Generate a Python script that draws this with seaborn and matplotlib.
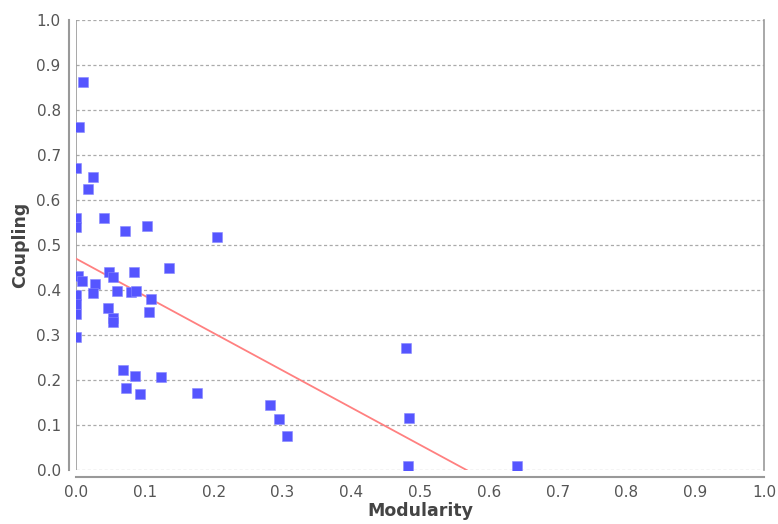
import numpy as np
import pandas as pd
import matplotlib
matplotlib.use("Agg")
import matplotlib.pyplot as plt
import seaborn as sns

# Per-project metrics
modularity = [0.0099, 0.005, 0.0, 0.025, 0.018, 0.0, 0.0, 0.0403, 0.0707, 0.103,
              0.2055, 0.135, 0.003, 0.008, 0.027, 0.025, 0.0, 0.0, 0.0, 0.0,
              0.0486, 0.054, 0.084, 0.06, 0.08, 0.0877, 0.109, 0.1065, 0.0467, 0.0533,
              0.0533, 0.0684, 0.0858, 0.0728, 0.0935, 0.1235, 0.1765, 0.2814, 0.2945, 0.306,
              0.48, 0.4838, 0.4819, 0.6409]
coupling = [0.863, 0.762, 0.672, 0.652, 0.625, 0.56, 0.541, 0.561, 0.532, 0.543,
            0.517, 0.448, 0.432, 0.421, 0.413, 0.393, 0.389, 0.368, 0.346, 0.296,
            0.439, 0.43, 0.439, 0.398, 0.395, 0.398, 0.38, 0.352, 0.359, 0.338,
            0.330, 0.2227, 0.209, 0.1826, 0.1686, 0.2065, 0.1708, 0.1448, 0.1129, 0.075,
            0.272, 0.115, 0.009, 0.009]
ticks = [round(0.1 * i, 1) for i in range(11)]

df = pd.DataFrame({"Modularity": modularity, "Coupling": coupling})

sns.set_style("white")
plt.rcParams["font.family"] = ["DejaVu Sans"]

text_col = "#444444"
tick_col = "#555555"
axis_col = "#999999"

fig = plt.figure(figsize=(7.78, 5.24), dpi=100)
ax = fig.add_axes([76 / 778, 1 - 470 / 524, (764 - 76) / 778, (470 - 20) / 524])

# horizontal dashed grid
for t in ticks:
    ax.axhline(t, color="#aaaaaa", lw=0.9, ls=(0, (2.5, 2)), zorder=0)
ax.axvline(0, color=axis_col, lw=1.2, zorder=0.5)

sns.regplot(data=df, x="Modularity", y="Coupling", scatter=False, ci=None,
            truncate=True, line_kws={"color": "#ff8080", "lw": 1.3, "zorder": 2}, ax=ax)
sns.scatterplot(data=df, x="Modularity", y="Coupling", marker="s", s=50,
                color="#5555ff", edgecolor="#8888ff", linewidth=0.4, zorder=3, ax=ax)

ax.set_xlim(0, 1)
ax.set_ylim(0, 1)
ax.set_xticks(ticks)
ax.set_yticks(ticks)
ax.set_xticklabels([f"{t:.1f}" for t in ticks])
ax.set_yticklabels([f"{t:.1f}" for t in ticks])

ax.spines["top"].set_visible(False)
ax.spines["right"].set_color(axis_col)
ax.spines["right"].set_linewidth(1.2)
for side in ("left", "bottom"):
    ax.spines[side].set_position(("outward", 5))
    ax.spines[side].set_color(axis_col)
    ax.spines[side].set_linewidth(1.5)

ax.tick_params(axis="both", direction="out", length=4, width=1, color=axis_col,
               labelsize=11, labelcolor=tick_col, pad=2)
ax.set_xlabel("Modularity", fontsize=12.5, fontweight="bold", color=text_col, labelpad=1)
ax.set_ylabel("Coupling", fontsize=12.5, fontweight="bold", color=text_col, labelpad=5)

fig.savefig("out.png", dpi=100)
